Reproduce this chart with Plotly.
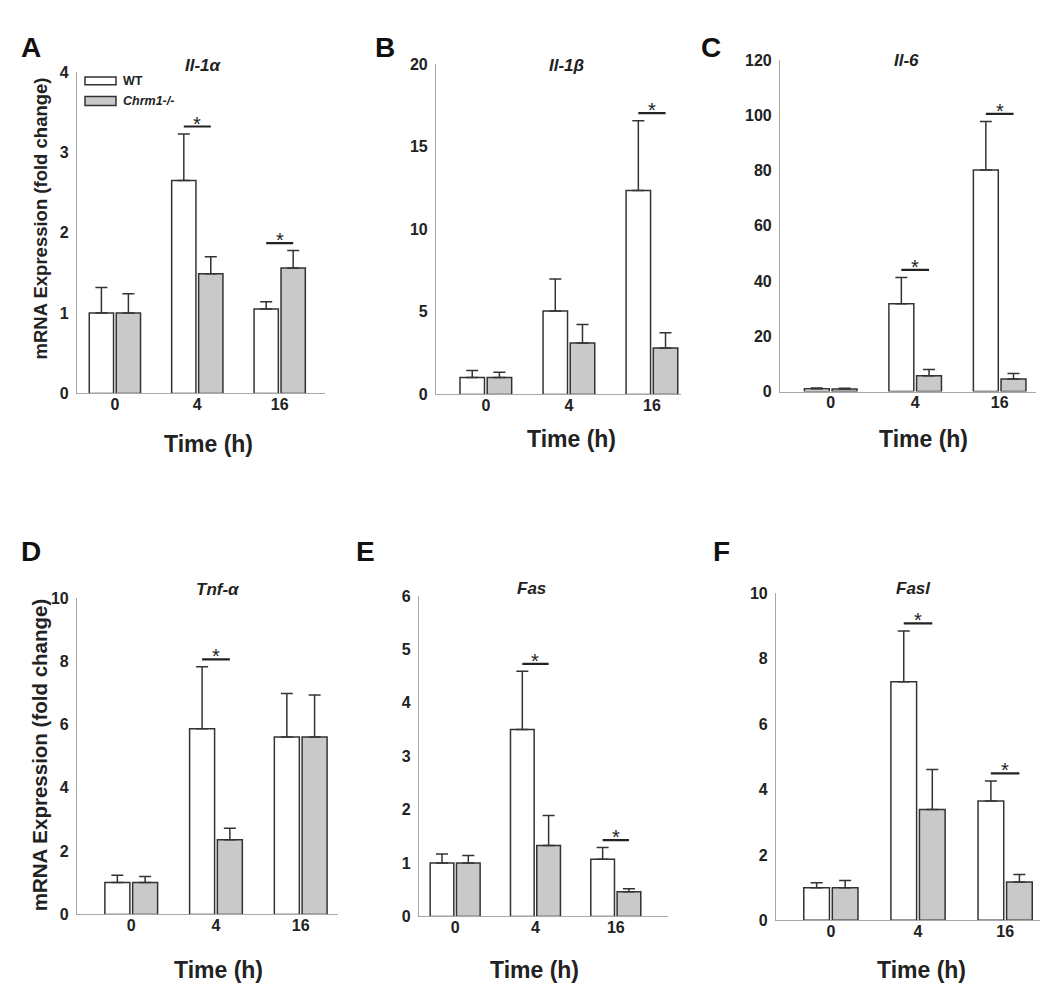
import plotly.graph_objects as go

W, H = 1050, 1000

TIME_LABELS = ["0", "4", "16"]
GENES = ["Il-1α", "Il-1β", "Il-6", "Tnf-α", "Fas", "Fasl"]
PANEL_LETTERS = ["A", "B", "C", "D", "E", "F"]

WT_MEAN = [
    [1.0, 2.65, 1.05],
    [1.03, 5.06, 12.35],
    [1.0, 31.8, 80.2],
    [1.01, 5.87, 5.61],
    [1.0, 3.50, 1.07],
    [1.0, 7.29, 3.65],
]
WT_ERR = [
    [0.32, 0.58, 0.09],
    [0.42, 1.93, 4.23],
    [0.3, 9.5, 17.6],
    [0.23, 1.96, 1.37],
    [0.17, 1.09, 0.22],
    [0.15, 1.55, 0.61],
]
KO_MEAN = [
    [1.0, 1.49, 1.56],
    [1.03, 3.12, 2.82],
    [0.9, 5.7, 4.5],
    [1.01, 2.36, 5.61],
    [1.0, 1.33, 0.46],
    [1.0, 3.39, 1.17],
]
KO_ERR = [
    [0.24, 0.21, 0.22],
    [0.32, 1.11, 0.91],
    [0.3, 2.3, 2.0],
    [0.19, 0.36, 1.32],
    [0.14, 0.56, 0.06],
    [0.22, 1.22, 0.23],
]
# groups (time index) marked with a significance star
SIG_GROUPS = [[1, 2], [2], [1, 2], [1], [1, 2], [1, 2]]

Y_MAX = [4, 20, 120, 10, 6, 10]
Y_DTICK = [1, 5, 20, 2, 1, 2]

# panel geometry in pixels: (x0, x1, ytop, ybottom)
PANEL_PX = [
    (69, 317, 57, 384),
    (428, 673, 49, 385),
    (772, 1028, 45, 382),
    (69, 330, 592, 914),
    (411, 660, 590, 916),
    (768, 1032, 587, 920),
]
X_RANGES = [[-0.46, 2.55], [-0.6, 2.35], [-0.6, 2.43], [-0.64, 2.44], [-0.45, 2.65], [-0.63, 2.4]]
TITLE_POS = [(195, 50), (558, 50), (898, 45), (210, 583), (523, 582), (905, 582)]
LETTER_POS = [(23, 32), (377, 32), (703, 32), (23, 545), (357, 545), (713, 545)]
XTITLE_POS = [(200, 435), (563, 430), (915, 430), (210, 970), (526, 970), (913, 970)]
YTITLE = [(32, 206, 18.5), (31, 752, 20.5)]

BARGAP = 0.345
BARGROUPGAP = 0.1
OUTLINE = "#333333"
KO_FILL = "#c9c9c9"
AXIS_COLOR = "#a8a8a8"
FONT = "Liberation Sans, Arial, sans-serif"


def px_x(px):
    return px / W


def px_y(py):
    return 1 - py / H


def paper_text(fig, px, py, text, size, color="#222", **kw):
    opts = {"xanchor": "center", "yanchor": "middle"}
    opts.update(kw)
    fig.add_annotation(x=px_x(px), y=px_y(py), xref="paper", yref="paper",
                       text=text, showarrow=False,
                       font={"family": FONT, "size": size, "color": color}, **opts)


fig = go.Figure()

half_offset = (1 - BARGAP) / 4  # bar centre offset from group centre
tick_font = {"family": FONT, "size": 16, "color": "#222", "weight": "bold"}

for p in range(6):
    ax = "" if p == 0 else str(p + 1)
    xref, yref = "x" + ax, "y" + ax
    for name, mean, err, fill in [
        ("WT", WT_MEAN[p], WT_ERR[p], "white"),
        ("Chrm1-/-", KO_MEAN[p], KO_ERR[p], KO_FILL),
    ]:
        fig.add_trace(go.Bar(
            x=TIME_LABELS, y=mean, name=name, xaxis=xref, yaxis=yref,
            marker={"color": fill, "line": {"color": OUTLINE, "width": 1.5}},
            error_y={"type": "data", "array": err, "arrayminus": [0] * len(err),
                     "symmetric": False, "color": OUTLINE, "thickness": 1.5, "width": 6},
            showlegend=False,
        ))

    # significance bars
    pad = Y_MAX[p] * 0.023
    for g in SIG_GROUPS[p]:
        top = max(WT_MEAN[p][g] + WT_ERR[p][g], KO_MEAN[p][g] + KO_ERR[p][g]) + pad
        fig.add_shape(type="line", xref=xref, yref=yref,
                      x0=g - half_offset, x1=g + half_offset, y0=top, y1=top,
                      line={"color": "#222", "width": 2.2})
        fig.add_annotation(x=g, y=top, xref=xref, yref=yref, text="*", showarrow=False,
                           yanchor="bottom", yshift=-10,
                           font={"family": FONT, "size": 20, "color": "#222"})

    x0, x1, yt, yb = PANEL_PX[p]
    fig.layout["xaxis" + ax] = {
        "domain": [px_x(x0), px_x(x1)], "anchor": yref, "range": X_RANGES[p],
        "showline": True, "linecolor": AXIS_COLOR, "linewidth": 1.2,
        "showgrid": False, "zeroline": False, "ticks": "",
        "ticklabelstandoff": -4, "tickfont": tick_font,
    }
    fig.layout["yaxis" + ax] = {
        "domain": [px_y(yb), px_y(yt)], "anchor": xref, "range": [0, Y_MAX[p]],
        "dtick": Y_DTICK[p], "showline": True, "linecolor": AXIS_COLOR, "linewidth": 1.2,
        "showgrid": False, "zeroline": False, "ticks": "",
        "ticklabelstandoff": 4, "tickfont": tick_font,
    }

    paper_text(fig, *TITLE_POS[p], f"<b><i>{GENES[p]}</i></b>", 17)
    paper_text(fig, *LETTER_POS[p], f"<b>{PANEL_LETTERS[p]}</b>", 28, color="#111")
    paper_text(fig, *XTITLE_POS[p], "<b>Time (h)</b>", 23)

for yx, yy, size in YTITLE:
    paper_text(fig, yx, yy, "<b>mRNA Expression (fold change)</b>", size, textangle=-90)

# legend drawn by hand inside panel A
for (y0, y1), fill, label in [((62, 70), "white", "<b>WT</b>"),
                              ((82, 91), KO_FILL, "<b><i>Chrm1-/-</i></b>")]:
    fig.add_shape(type="rect", xref="paper", yref="paper",
                  x0=px_x(77), x1=px_x(108), y0=px_y(y1), y1=px_y(y0),
                  fillcolor=fill, line={"color": OUTLINE, "width": 1.5})
    paper_text(fig, 113, (y0 + y1) / 2, label, 12.5, xanchor="left")

fig.update_layout(
    width=W, height=H, margin={"l": 0, "r": 0, "t": 0, "b": 0},
    paper_bgcolor="white", plot_bgcolor="white",
    barmode="group", bargap=BARGAP, bargroupgap=BARGROUPGAP,
    showlegend=False,
)

fig.write_html("out.html")
